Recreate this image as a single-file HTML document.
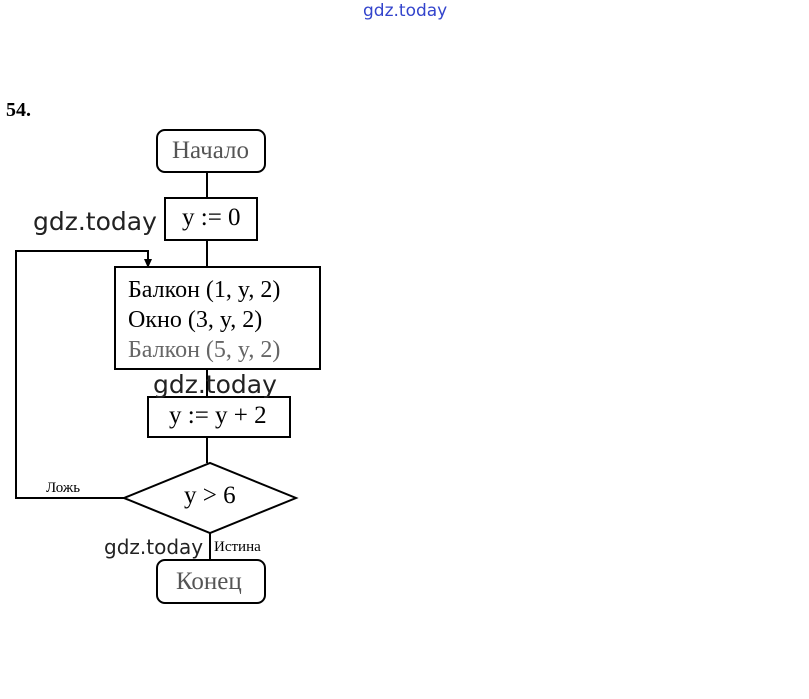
<!DOCTYPE html>
<html><head><meta charset="utf-8"><style>
body{margin:0;width:809px;height:699px;background:#fff;position:relative;overflow:hidden;font-family:"Liberation Serif",serif}
.a{position:absolute;white-space:nowrap}
.wm{font-family:"DejaVu Sans","Liberation Sans",sans-serif;color:#222}
</style></head><body>
<svg class="a" style="left:0;top:0" width="809" height="699">
<g fill="none" stroke="#000" stroke-width="2">
<rect x="157" y="130" width="108" height="42" rx="8"/>
<line x1="207" y1="172" x2="207" y2="198"/>
<rect x="165" y="198" width="92" height="42"/>
<line x1="207" y1="240" x2="207" y2="267"/>
<rect x="115" y="267" width="205" height="102"/>
<line x1="207" y1="369" x2="207" y2="397"/>
<rect x="148" y="397" width="142" height="40"/>
<line x1="207" y1="437" x2="207" y2="463"/>
<polygon points="124,498 210,463 296,498 210,533"/>
<polyline points="124,498 16,498 16,251 148,251 148,262"/>
<line x1="210" y1="533" x2="210" y2="560"/>
<rect x="157" y="560" width="108" height="43" rx="8"/>
</g>
<polygon points="144,259 152,259 148,268" fill="#000"/>
</svg>
<div class="a wm" style="left:363px;top:1px;font-size:17px;color:#3344cc">gdz.today</div>
<div class="a" style="left:6px;top:99px;font-size:20px;font-weight:bold">54.</div>
<div class="a" style="left:172px;top:137px;font-size:25px;color:#555">Начало</div>
<div class="a wm" style="left:33px;top:207px;font-size:25px">gdz.today</div>
<div class="a" style="left:182px;top:204px;font-size:25px">y := 0</div>
<div class="a" style="left:128px;top:275px;font-size:24px;line-height:30px">Балкон (1, y, 2)<br>Окно (3, y, 2)<br><span style="color:#666">Балкон (5, y, 2)</span></div>
<div class="a wm" style="left:153px;top:370px;font-size:25px">gdz.today</div>
<div class="a" style="left:169px;top:402px;font-size:25px">y := y + 2</div>
<div class="a" style="left:46px;top:480px;font-size:15px">Ложь</div>
<div class="a" style="left:184px;top:482px;font-size:25px">y &gt; 6</div>
<div class="a wm" style="left:104px;top:535px;font-size:20px">gdz.today</div>
<div class="a" style="left:214px;top:539px;font-size:15px">Истина</div>
<div class="a" style="left:176px;top:568px;font-size:25px;color:#555">Конец</div>
</body></html>
